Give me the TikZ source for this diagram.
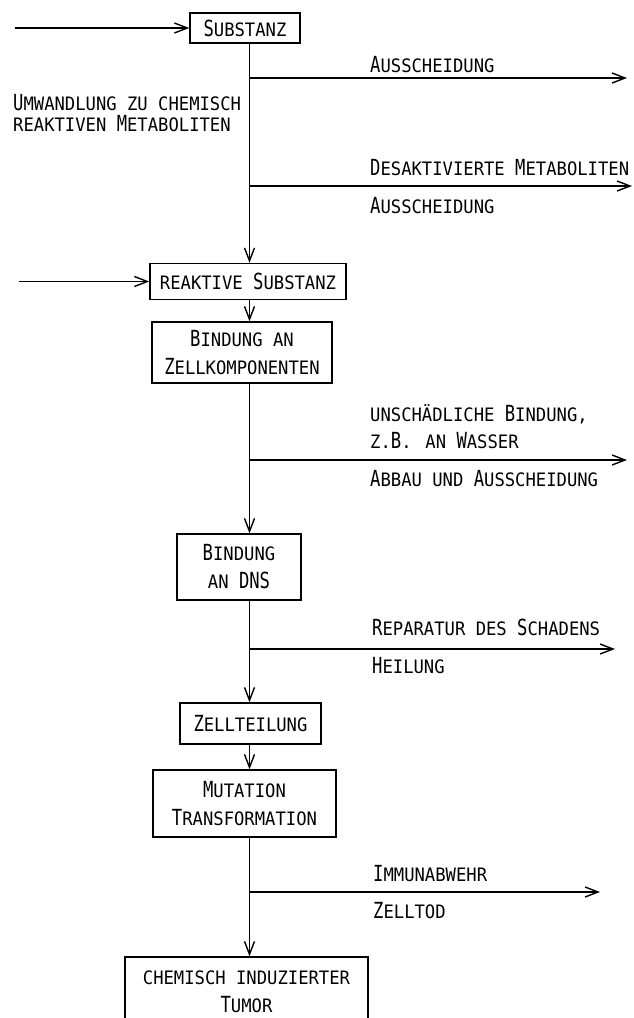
\documentclass[tikz,border=0pt]{standalone}
\usepackage{fontspec}
\usepackage{graphicx}
\newfontfamily\lett[FakeStretch=0.93]{DejaVu Sans Mono}
\usetikzlibrary{arrows.meta}
\newcommand\C[1]{\scalebox{1}[1.2]{#1}}
\begin{document}
\begin{tikzpicture}[x=1pt,y=-1pt,
  every node/.style={font=\lett\fontsize{18.5}{28}\selectfont, inner sep=0pt},
  flowbox/.style={draw, line width=1.4pt, align=center},
  lbl/.style={anchor=base west},
  arr/.style={-{Straight Barb[length=13pt,width=10pt]}, line width=1.4pt},
  ln/.style={line width=1.4pt}]
\useasboundingbox (0,0) rectangle (634,1018);
\clip (0,0) rectangle (634,1018);

% boxes
\node[flowbox, minimum width=110pt, minimum height=30pt] (sub) at (245,28) {\C{S}UBSTANZ};
\node[flowbox, minimum width=196pt, minimum height=36pt] (rsub) at (248,281.5) {REAKTIVE \C{S}UBSTANZ};
\node[flowbox, minimum width=180pt, minimum height=61pt] (bz) at (242,352.5) {\C{B}INDUNG AN\\\C{Z}ELLKOMPONENTEN};
\node[flowbox, minimum width=124pt, minimum height=66pt] (dns) at (239,567) {\C{B}INDUNG\\AN \C{DNS}};
\node[flowbox, minimum width=141pt, minimum height=41pt] (zt) at (250.5,723.5) {\C{Z}ELLTEILUNG};
\node[flowbox, minimum width=183pt, minimum height=67pt] (mut) at (244.5,803.5) {\C{M}UTATION\\\C{T}RANSFORMATION};
\node[flowbox, minimum width=243pt, minimum height=70pt] (tum) at (246.5,992) {CHEMISCH INDUZIERTER\\\C{T}UMOR};

% trunk
\coordinate (tr) at (249.5,0);
\draw[arr] (sub.south -| tr) -- (rsub.north -| tr);
\draw[arr] (rsub.south -| tr) -- (bz.north -| tr);
\draw[arr] (bz.south -| tr) -- (dns.north -| tr);
\draw[arr] (dns.south -| tr) -- (zt.north -| tr);
\draw[arr] (zt.south -| tr) -- (mut.north -| tr);
\draw[arr] (mut.south -| tr) -- (tum.north -| tr);

% inputs
\coordinate (i1) at (15,28);
\coordinate (i2) at (19,281.5);
\draw[arr] (i1) -- (sub.west);
\draw[arr] (i2) -- (rsub.west);

% branches
\coordinate (b1) at (249.5,78);  \coordinate (e1) at (627,78);
\coordinate (b2) at (249.5,186); \coordinate (e2) at (632,186);
\coordinate (b3) at (249.5,460); \coordinate (e3) at (627,460);
\coordinate (b4) at (249.5,649); \coordinate (e4) at (615,649);
\coordinate (b5) at (249.5,892); \coordinate (e5) at (600,892);
\draw[arr] (b1) -- (e1);
\draw[arr] (b2) -- (e2);
\draw[arr] (b3) -- (e3);
\draw[arr] (b4) -- (e4);
\draw[arr] (b5) -- (e5);

% labels
\node[lbl] (l1) at (370,72.3) {\C{A}USSCHEIDUNG};
\node[lbl] (l2) at (370,175) {\C{D}ESAKTIVIERTE \C{M}ETABOLITEN};
\node[lbl] (l3) at (370,213.3) {\C{A}USSCHEIDUNG};
\node[lbl] (l4) at (13,110) {\C{U}MWANDLUNG ZU CHEMISCH};
\node[lbl] (l5) at (13,131.7) {REAKTIVEN \C{M}ETABOLITEN};
\node[lbl] (l6) at (370,421.7) {UNSCHÄDLICHE \C{B}INDUNG,};
\node[lbl] (l7) at (370,448.3) {Z.\C{B}. AN \C{W}ASSER};
\node[lbl] (l8) at (370,486) {\C{A}BBAU UND \C{A}USSCHEIDUNG};
\node[lbl] (l9) at (372,635) {\C{R}EPARATUR DES \C{S}CHADENS};
\node[lbl] (l10) at (372,673.3) {\C{H}EILUNG};
\node[lbl] (l11) at (373,881.7) {\C{I}MMUNABWEHR};
\node[lbl] (l12) at (373,918.3) {\C{Z}ELLTOD};
\end{tikzpicture}
\end{document}
